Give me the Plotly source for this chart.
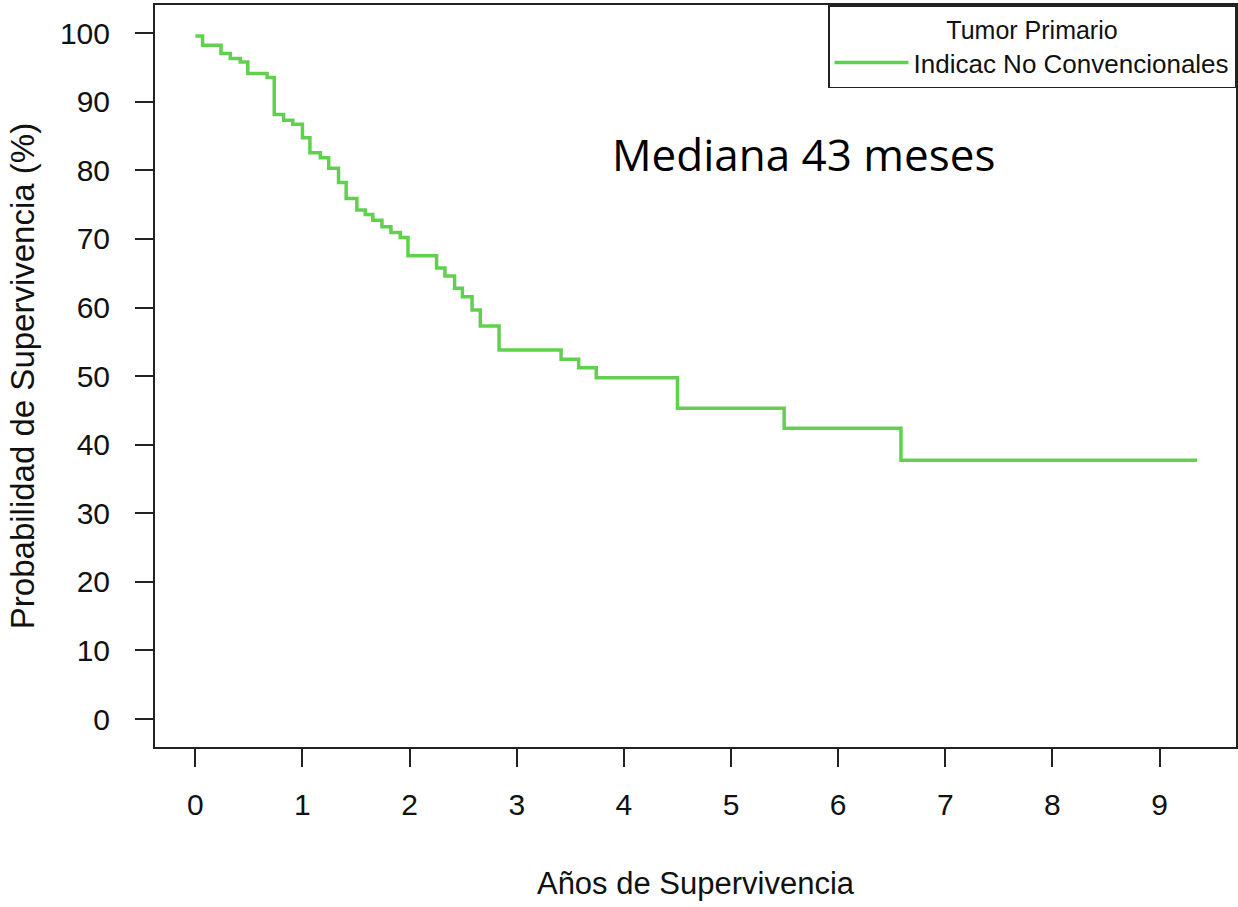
import plotly.graph_objects as go

# Kaplan-Meier step data (years, survival %)
time_years = [0.0, 0.068, 0.24, 0.327, 0.42, 0.49, 0.67, 0.737, 0.824, 0.91,
              1.0, 1.07, 1.167, 1.245, 1.337, 1.408, 1.508, 1.586, 1.657, 1.742,
              1.826, 1.913, 1.985, 2.252, 2.33, 2.42, 2.493, 2.583, 2.66, 2.835,
              3.414, 3.578, 3.742, 4.5, 5.496, 6.586, 9.35]
survival_pct = [99.6, 98.25, 97.04, 96.31, 95.82, 94.13, 93.54, 88.15, 87.32, 86.74,
                84.77, 82.59, 81.86, 80.33, 78.25, 75.92, 74.21, 73.58, 72.75, 71.78,
                70.96, 70.23, 67.55, 65.76, 64.59, 62.80, 61.58, 59.64, 57.31, 53.81,
                52.46, 51.23, 49.77, 45.32, 42.40, 37.74, 37.74]

x_ticks = list(range(0, 10))
y_ticks = list(range(0, 101, 10))

series_name = "Indicac No Convencionales"
legend_title = "Tumor Primario"
x_title = "Años de Supervivencia"
y_title = "Probabilidad de Supervivencia (%)"
note_text = "Mediana 43 meses"

FONT = "Liberation Sans, Arial, sans-serif"
AX = "#222222"
TXT = "#111111"

fig = go.Figure()
fig.add_trace(go.Scatter(
    x=time_years, y=survival_pct, mode="lines", line_shape="hv",
    line=dict(color="#61D04F", width=3.5), name=series_name,
))

fig.update_layout(
    width=1238, height=907,
    margin=dict(l=155, r=2, t=5, b=160),
    paper_bgcolor="white", plot_bgcolor="white",
    font=dict(family=FONT, color=TXT),
    showlegend=True,
    legend=dict(
        x=1, y=1, xanchor="right", yanchor="top",
        bordercolor=AX, borderwidth=1.5, bgcolor="white",
        itemwidth=74,
        font=dict(size=26, family=FONT, color=TXT),
        title=dict(text=legend_title, side="top center", font=dict(size=25, family=FONT, color=TXT)),
    ),
    annotations=[dict(
        x=5.68, y=82.35, xref="x", yref="y", text=note_text, showarrow=False,
        font=dict(family="Open Sans, Noto Sans, sans-serif", size=44, color="black"),
        xanchor="center", yanchor="middle",
    )],
)

fig.update_xaxes(
    range=[-0.376, 9.713], tickvals=x_ticks, ticktext=[str(v) for v in x_ticks],
    showgrid=False, zeroline=False, automargin=False,
    showline=True, linecolor=AX, linewidth=2, mirror=True,
    ticks="outside", ticklen=18, tickwidth=1.5, tickcolor=AX,
    ticklabelstandoff=12,
    tickfont=dict(size=30, family=FONT, color=TXT),
    title=dict(text=x_title, font=dict(size=31, family=FONT, color=TXT), standoff=52),
)
fig.update_yaxes(
    range=[-4.08, 104.12], tickvals=y_ticks, ticktext=[str(v) for v in y_ticks],
    showgrid=False, zeroline=False, automargin=False,
    showline=True, linecolor=AX, linewidth=2, mirror=True,
    ticks="outside", ticklen=18, tickwidth=1.5, tickcolor=AX,
    ticklabelstandoff=19,
    tickfont=dict(size=30, family=FONT, color=TXT),
    title=dict(text=y_title, font=dict(size=33, family=FONT, color=TXT), standoff=15),
)

fig.write_html("out.html", config={"displayModeBar": False},
               post_script="document.body.style.margin='0';")
